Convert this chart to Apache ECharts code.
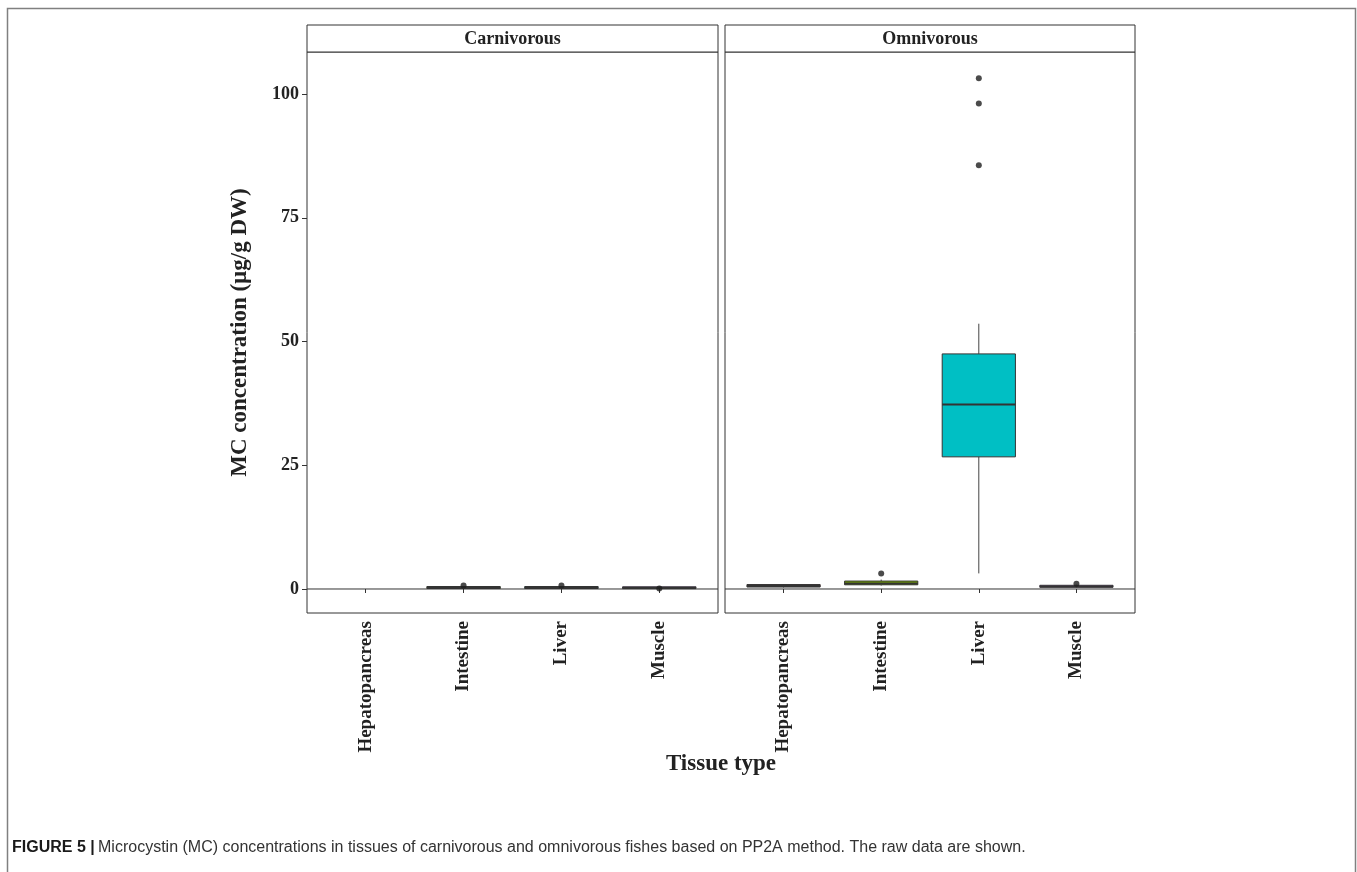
<!DOCTYPE html>
<html>
<head>
<meta charset="utf-8">
<title>MC concentration by tissue type</title>
<script src="https://cdn.jsdelivr.net/npm/echarts@6/dist/echarts.min.js"></script>
<style>
  html, body { margin: 0; padding: 0; background: #fff; }
  #chart { width: 1357px; height: 872px; }
</style>
</head>
<body>
<div id="chart"></div>
<script>
// Facets and tissue categories
const panels = ['Carnivorous', 'Omnivorous'];
const tissues = ['Hepatopancreas', 'Intestine', 'Liver', 'Muscle'];
const tissueColors = ['#F8766D', '#7CAE00', '#00BFC4', '#C77CFF'];

// Five-number summaries per tissue: [lower whisker, Q1, median, Q3, upper whisker]; null = no samples
const carnivorousBoxes = [
  null,
  [0.05, 0.1, 0.25, 0.5, 0.6],
  [0.05, 0.1, 0.25, 0.5, 0.6],
  [0.02, 0.08, 0.2, 0.45, 0.55]
];
const omnivorousBoxes = [
  [0.3, 0.4, 0.6, 0.9, 1.0],
  [0.7, 0.85, 1.1, 1.6, 1.9],
  [3.15, 26.7, 37.3, 47.5, 53.6],
  [0.25, 0.35, 0.5, 0.75, 0.85]
];

// Outlying samples: [tissue, MC concentration]
const carnivorousOutliers = [['Intestine', 0.73], ['Liver', 0.7], ['Muscle', 0.1]];
const omnivorousOutliers = [
  ['Intestine', 3.15], ['Liver', 85.6], ['Liver', 98.1], ['Liver', 103.2], ['Muscle', 1.05]
];

// Value axis
const yMin = -4.85, yMax = 108.5;
const yTicks = [0, 25, 50, 75, 100];

const serif = 'Liberation Serif';
const ink = '#222';

const frames = [
  { left: 307, width: 411 },
  { left: 725, width: 410 }
];
const plotTop = 52, plotHeight = 561;

function boxRows(boxes) {
  const rows = [];
  boxes.forEach((b, i) => { if (b) rows.push([i].concat(b)); });
  return rows;
}
function outlierRows(list) {
  return list.map(([t, v]) => [tissues.indexOf(t), v]);
}

function renderBox(params, api) {
  const x = api.value(0);
  const lo = api.coord([x, api.value(1)]);
  const q1 = api.coord([x, api.value(2)]);
  const md = api.coord([x, api.value(3)]);
  const q3 = api.coord([x, api.value(4)]);
  const hi = api.coord([x, api.value(5)]);
  const half = api.size([1, 0])[0] * 0.375;
  const cx = lo[0];
  const whisker = { stroke: '#444', lineWidth: 1 };
  return {
    type: 'group',
    children: [
      { type: 'line', shape: { x1: cx, y1: hi[1], x2: cx, y2: q3[1] }, style: whisker },
      { type: 'line', shape: { x1: cx, y1: q1[1], x2: cx, y2: lo[1] }, style: whisker },
      { type: 'rect', shape: { x: cx - half, y: q3[1], width: 2 * half, height: Math.max(q1[1] - q3[1], 0.5) },
        style: { fill: tissueColors[x], stroke: '#333', lineWidth: 1 } },
      { type: 'line', shape: { x1: cx - half, y1: md[1], x2: cx + half, y2: md[1] },
        style: { stroke: '#333', lineWidth: 2 } }
    ]
  };
}

const grid = [], xAxis = [], yAxis = [], series = [];
const allBoxes = [carnivorousBoxes, omnivorousBoxes];
const allOutliers = [carnivorousOutliers, omnivorousOutliers];

frames.forEach((f, p) => {
  const unit = f.width / 4.2;
  // frame grid (panel border, y axis, zero line)
  grid.push({ left: f.left, top: plotTop, width: f.width, height: plotHeight,
    show: true, borderColor: '#333', borderWidth: 1, backgroundColor: 'transparent', outerBoundsMode: 'none' });
  // data grid (discrete tissue positions)
  grid.push({ left: f.left + 0.1 * unit, top: plotTop, width: 4 * unit, height: plotHeight, outerBoundsMode: 'none' });
  const gA = 2 * p, gB = 2 * p + 1;

  xAxis.push({ type: 'value', gridIndex: gA, min: 0, max: 1, show: false });
  xAxis.push({
    type: 'category', gridIndex: gB, data: tissues, boundaryGap: true,
    axisLine: { show: false },
    axisTick: { show: true, alignWithLabel: true, length: 4, lineStyle: { color: '#333', width: 1 } },
    axisLabel: { rotate: 90, margin: 8, color: ink, fontFamily: serif, fontWeight: 'bold', fontSize: 19, interval: 0 },
    splitLine: { show: false }
  });
  yAxis.push({
    type: 'value', gridIndex: gA, min: yMin, max: yMax,
    axisLine: { show: false },
    axisTick: { show: p === 0, length: 5, customValues: yTicks, lineStyle: { color: '#333', width: 1 } },
    axisLabel: { show: p === 0, margin: 8, customValues: yTicks, color: ink, fontFamily: serif, fontWeight: 'bold', fontSize: 18 },
    splitLine: { show: false }
  });
  yAxis.push({ type: 'value', gridIndex: gB, min: yMin, max: yMax, show: false, splitLine: { show: false } });

  series.push({
    type: 'line', xAxisIndex: gA, yAxisIndex: gA, data: [[0, 0], [1, 0]],
    symbol: 'none', silent: true, z: 1, lineStyle: { color: '#333', width: 1 }
  });
  series.push({
    type: 'custom', xAxisIndex: gB, yAxisIndex: gB, data: boxRows(allBoxes[p]),
    encode: { x: 0, y: [1, 2, 3, 4, 5] }, renderItem: renderBox, z: 2, silent: true
  });
  series.push({
    type: 'scatter', xAxisIndex: gB, yAxisIndex: gB, data: outlierRows(allOutliers[p]),
    symbolSize: 6, itemStyle: { color: '#1e1e1e' }, z: 3, silent: true
  });
});

const graphic = [
  { type: 'rect', shape: { x: 7.5, y: 8.5, width: 1348, height: 900 },
    style: { fill: 'none', stroke: '#808080', lineWidth: 1.5 }, silent: true }
];
frames.forEach((f, p) => {
  graphic.push({ type: 'rect', shape: { x: f.left, y: 25, width: f.width, height: plotTop - 25 },
    style: { fill: '#fff', stroke: '#333', lineWidth: 1 }, silent: true });
  graphic.push({ type: 'text', x: f.left + f.width / 2, y: (25 + plotTop) / 2 + 1,
    style: { text: panels[p], fill: ink, font: 'bold 18px "' + serif + '"', align: 'center', verticalAlign: 'middle' } });
});
graphic.push({ type: 'text', x: 240, y: plotTop + plotHeight / 2, rotation: Math.PI / 2,
  style: { text: 'MC concentration (µg/g DW)', fill: ink, font: 'bold 23px "' + serif + '"', align: 'center', verticalAlign: 'middle' } });
graphic.push({ type: 'text', x: 721, y: 764,
  style: { text: 'Tissue type', fill: ink, font: 'bold 23px "' + serif + '"', align: 'center', verticalAlign: 'middle' } });
graphic.push({ type: 'text', x: 12, y: 848,
  style: {
    text: '{b|FIGURE 5 |} {n|Microcystin (MC) concentrations in tissues of carnivorous and omnivorous fishes based on PP2A method. The raw data are shown.}',
    verticalAlign: 'middle',
    rich: {
      b: { fontFamily: 'Liberation Sans', fontWeight: 'bold', fontSize: 16, fill: '#1a1a1a' },
      n: { fontFamily: 'Liberation Sans', fontSize: 16, fill: '#333' }
    }
  } });

const chart = echarts.init(document.getElementById('chart'), null, { renderer: 'canvas' });
chart.setOption({
  animation: false,
  backgroundColor: '#fff',
  grid, xAxis, yAxis, series, graphic
});
</script>
</body>
</html>
